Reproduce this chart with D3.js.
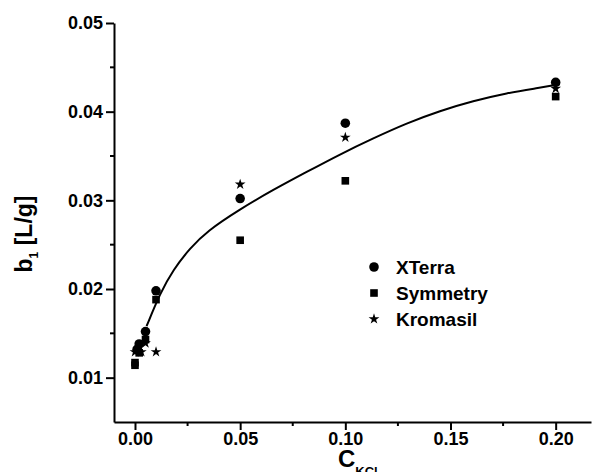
<!DOCTYPE html>
<html>
<head>
<meta charset="utf-8">
<script src="https://cdn.jsdelivr.net/npm/d3@7"></script>
<style>
    body { margin: 0; background: #fff; }
    svg { display: block; font-family: "Liberation Sans", Arial, sans-serif; font-weight: bold; }
</style>
</head>
<body>
<svg id="chart" width="601" height="472"></svg>
<script>
// KCl concentration and b1 values
const xterraX = [0.001, 0.002, 0.005, 0.01, 0.05, 0.1, 0.2];
const xterraY = [0.0132, 0.0138, 0.0152, 0.0198, 0.0302, 0.0387, 0.0433];
const symmetryX = [0, 0, 0.002, 0.005, 0.01, 0.05, 0.1, 0.2];
const symmetryY = [0.0114, 0.0117, 0.0128, 0.0143, 0.0188, 0.0255, 0.0322, 0.0417];
const kromasilX = [0, 0.003, 0.005, 0.01, 0.05, 0.1, 0.2];
const kromasilY = [0.0129, 0.0129, 0.0139, 0.0129, 0.0318, 0.0371, 0.0426];

// fitted curve
const fitX = [0.0055, 0.0119, 0.0182, 0.0262, 0.0341, 0.0499, 0.0658, 0.0816, 0.0975, 0.1133, 0.1292, 0.145, 0.1608, 0.1767, 0.1925, 0.202];
const fitY = [0.0158, 0.0195, 0.0222, 0.0246, 0.0265, 0.0290, 0.0312, 0.0332, 0.0352, 0.0370, 0.0387, 0.0401, 0.0412, 0.0421, 0.0427, 0.0431];

const xTicks = [0, 0.05, 0.1, 0.15, 0.2];
const xMinor = [0.025, 0.075, 0.125, 0.175];
const yTicks = [0.01, 0.02, 0.03, 0.04, 0.05];
const yMinor = [0.015, 0.025, 0.035, 0.045];

const legendNames = ["XTerra", "Symmetry", "Kromasil"];

const svg = d3.select("#chart");
const mLeft = 114, mRight = 591, mTop = 23, mBottom = 422;

const x = d3.scaleLinear().domain([-0.00998, 0.2168]).range([mLeft, mRight]);
const y = d3.scaleLinear().domain([0.005, 0.05]).range([mBottom, mTop]);

// Axes
const xAxis = svg.append("g").attr("transform", `translate(0,${mBottom})`)
    .call(d3.axisBottom(x).tickValues(xTicks).tickFormat(d3.format(".2f")).tickSize(8).tickPadding(2).tickSizeOuter(0));
xAxis.append("g").selectAll("line").data(xMinor).join("line")
    .attr("x1", d => x(d)).attr("x2", d => x(d)).attr("y1", 0).attr("y2", 4)
    .attr("stroke", "#000").attr("stroke-width", 2);

const yAxis = svg.append("g").attr("transform", `translate(${mLeft},0)`)
    .call(d3.axisLeft(y).tickValues(yTicks).tickFormat(d3.format(".2f")).tickSize(8).tickPadding(3).tickSizeOuter(0));
yAxis.append("g").selectAll("line").data(yMinor).join("line")
    .attr("y1", d => y(d)).attr("y2", d => y(d)).attr("x1", 0).attr("x2", -4)
    .attr("stroke", "#000").attr("stroke-width", 2);

svg.selectAll(".domain, .tick line").attr("stroke", "#000").attr("stroke-width", 2);
svg.selectAll(".tick text").attr("font-size", 18).attr("font-family", "Liberation Sans, Arial, sans-serif")
    .attr("font-weight", "bold").attr("fill", "#000");

// Axis titles
const yTitle = svg.append("text")
    .attr("transform", `translate(32,234) rotate(-90)`)
    .attr("text-anchor", "middle").attr("font-size", 23);
yTitle.append("tspan").text("b");
yTitle.append("tspan").attr("font-size", 12).attr("dy", 6).text("1");
yTitle.append("tspan").attr("dy", -6).text("  [L/g]");

const xTitle = svg.append("text")
    .attr("x", 338).attr("y", 467).attr("font-size", 24);
xTitle.append("tspan").text("C");
xTitle.append("tspan").attr("font-size", 13).attr("dy", 9).text("KCl");

// Fitted curve
const fit = fitX.map((v, i) => [v, fitY[i]]);
svg.append("path")
    .datum(fit)
    .attr("fill", "none").attr("stroke", "#000").attr("stroke-width", 2)
    .attr("d", d3.line().x(d => x(d[0])).y(d => y(d[1])).curve(d3.curveBasis));

// Points
const series = [
    { xs: xterraX, ys: xterraY, type: d3.symbolCircle, size: 72 },
    { xs: symmetryX, ys: symmetryY, type: d3.symbolSquare, size: 58 },
    { xs: kromasilX, ys: kromasilY, type: d3.symbolStar, size: 36 }
];

series.forEach(s => {
    svg.append("g").selectAll("path")
        .data(s.xs.map((v, i) => [v, s.ys[i]]))
        .join("path")
        .attr("d", d3.symbol().type(s.type).size(s.size))
        .attr("transform", d => `translate(${x(d[0])},${y(d[1])})`)
        .attr("fill", "#000");
});

// Legend
const legend = svg.append("g").attr("transform", "translate(374,267)");
legendNames.forEach((name, i) => {
    const s = series[i];
    const row = legend.append("g").attr("transform", `translate(0,${i * 26})`);
    row.append("path")
        .attr("d", d3.symbol().type(s.type).size(s.size))
        .attr("fill", "#000");
    row.append("text").attr("x", 22).attr("y", 7)
        .attr("font-size", 19).text(name);
});
</script>
</body>
</html>
